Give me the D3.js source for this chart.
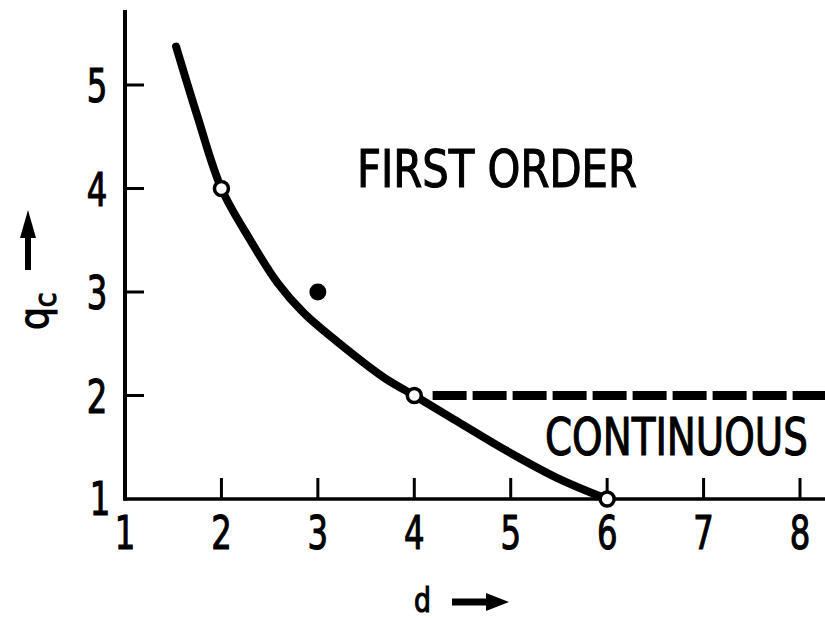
<!DOCTYPE html>
<html>
<head>
<meta charset="utf-8">
<script src="https://cdn.jsdelivr.net/npm/d3@7"></script>
<style>
  html, body { margin: 0; padding: 0; background: #fff; }
  svg { display: block; }
  text { font-family: "DejaVu Sans Condensed", "DejaVu Sans", sans-serif; fill: #000; stroke: #000; stroke-width: 1.1; }
</style>
</head>
<body>
<svg id="chart" width="825" height="618"></svg>
<script>
// Phase boundary q_c(d) between first-order and continuous transitions
const boundaryD = [1.53, 1.75, 2.0, 2.3, 2.58, 2.85, 3.2, 3.69, 4.0, 4.41, 4.95, 5.49, 6.0];
const boundaryQ = [5.37, 4.70, 4.0, 3.50, 3.09, 2.80, 2.52, 2.17, 2.0, 1.77, 1.47, 1.20, 1.0];

// Exactly known points (open circles) and the extra estimate (filled circle)
const exactD = [2, 4, 6];
const exactQ = [4, 2, 1];
const estimateD = [3];
const estimateQ = [3];

// Continuous-transition line at q = 2 for d above 4
const dashedD = [4.19, 8.4];
const dashedQ = [2, 2];

const xTicks = [1, 2, 3, 4, 5, 6, 7, 8];
const yTicks = [1, 2, 3, 4, 5];

const regionLabels = ["FIRST ORDER", "CONTINUOUS"];

const svg = d3.select("#chart");

const x = d3.scaleLinear().domain([1, 8]).range([125, 800]);
const y = d3.scaleLinear().domain([1, 5]).range([499, 85]);

// Narrow lettering: draw text in a group squeezed horizontally
function narrowText(parent, px, py, str, size, sx, anchor) {
  const g = parent.append("g").attr("transform", `translate(${px},${py}) scale(${sx},1)`);
  return g.append("text")
    .attr("text-anchor", anchor || "start")
    .attr("font-size", size)
    .text(str);
}

// Axis lines
const xAxisEnd = 825;
svg.append("line")
  .attr("x1", x(1) - 1.5).attr("x2", xAxisEnd)
  .attr("y1", y(1)).attr("y2", y(1))
  .attr("stroke", "#000").attr("stroke-width", 3.5);
svg.append("line")
  .attr("x1", x(1)).attr("x2", x(1))
  .attr("y1", 10).attr("y2", y(1) + 1.5)
  .attr("stroke", "#000").attr("stroke-width", 4);

// Ticks pointing into the plot
svg.append("g").selectAll("line")
  .data(xTicks.filter(t => t > 1))
  .join("line")
  .attr("x1", d => x(d)).attr("x2", d => x(d))
  .attr("y1", y(1)).attr("y2", y(1) - 21)
  .attr("stroke", "#000").attr("stroke-width", 3);
svg.append("g").selectAll("line")
  .data(yTicks.filter(t => t > 1))
  .join("line")
  .attr("x1", x(1)).attr("x2", x(1) + 19)
  .attr("y1", d => y(d)).attr("y2", d => y(d))
  .attr("stroke", "#000").attr("stroke-width", 3);

// Tick labels
const xLabels = svg.append("g");
xTicks.forEach(t => narrowText(xLabels, x(t), y(1) + 50, String(t), 46, 0.78, "middle"));
const yLabels = svg.append("g");
yTicks.forEach(t => narrowText(yLabels, t === 1 ? 100 : 97, y(t) + (t === 1 ? 16 : 17), String(t), 46, 0.78, "middle"));

// Dashed continuous line
svg.append("path")
  .datum(dashedD.map((d, i) => [d, dashedQ[i]]))
  .attr("d", d3.line().x(d => x(d[0])).y(d => y(d[1])))
  .attr("fill", "none")
  .attr("stroke", "#000")
  .attr("stroke-width", 9)
  .attr("stroke-dasharray", "34 6");

// Boundary curve
svg.append("path")
  .datum(boundaryD.map((d, i) => [d, boundaryQ[i]]))
  .attr("d", d3.line().x(d => x(d[0])).y(d => y(d[1])).curve(d3.curveCatmullRom.alpha(0.5)))
  .attr("fill", "none")
  .attr("stroke", "#000")
  .attr("stroke-width", 8)
  .attr("stroke-linecap", "round")
  .attr("stroke-linejoin", "round");

// Open circles at exact values
svg.append("g").selectAll("circle")
  .data(exactD.map((d, i) => [d, exactQ[i]]))
  .join("circle")
  .attr("cx", d => x(d[0]))
  .attr("cy", d => y(d[1]))
  .attr("r", 7)
  .attr("fill", "#fff")
  .attr("stroke", "#000")
  .attr("stroke-width", 3.5);

// Filled circle
svg.append("g").selectAll("circle")
  .data(estimateD.map((d, i) => [d, estimateQ[i]]))
  .join("circle")
  .attr("cx", d => x(d[0]))
  .attr("cy", d => y(d[1]))
  .attr("r", 8.5)
  .attr("fill", "#000");

// Region labels
narrowText(svg, 357, 187, regionLabels[0], 51, 0.91);
narrowText(svg, 545, 455, regionLabels[1], 52, 0.83);

// Axis titles with arrows
narrowText(svg, 414, 612, "d", 33, 0.9);
svg.append("path")
  .attr("d", "M452,602 L490,602")
  .attr("stroke", "#000").attr("stroke-width", 7);
svg.append("path")
  .attr("d", "M486,593 L509,602 L486,611 Z")
  .attr("fill", "#000");

const qLabel = svg.append("text")
  .attr("transform", "translate(48,330) rotate(-90)")
  .attr("font-size", 40);
qLabel.append("tspan").text("q");
qLabel.append("tspan").attr("font-size", 30).attr("dy", 8).text("c");

svg.append("path")
  .attr("d", "M28,270 L28,232")
  .attr("stroke", "#000").attr("stroke-width", 6);
svg.append("path")
  .attr("d", "M20,238 L28,210 L36,238 Z")
  .attr("fill", "#000");
</script>
</body>
</html>
